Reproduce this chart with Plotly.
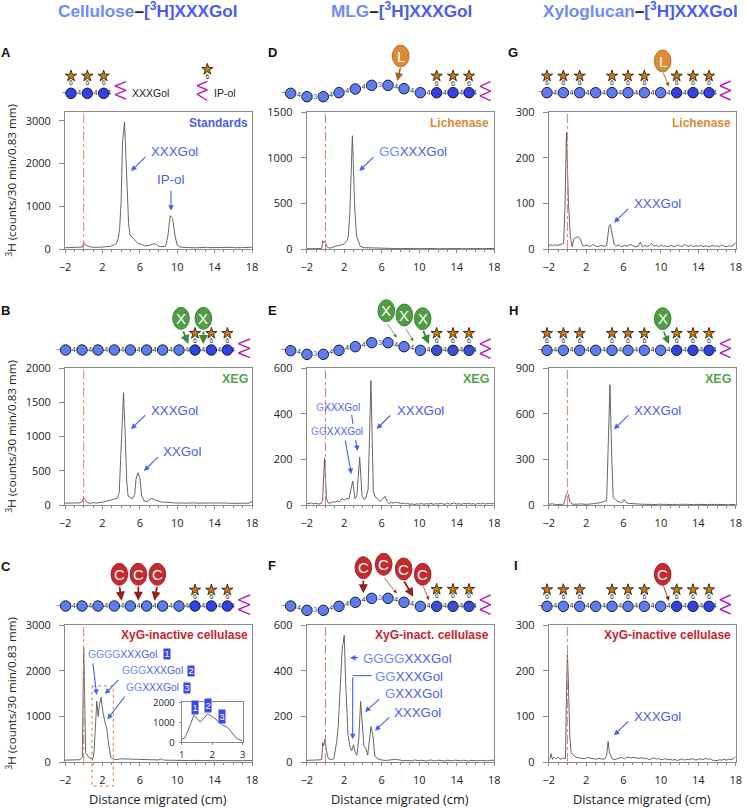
import plotly.graph_objects as go

FONT = "Liberation Sans"
TICK_FONT = "Open Sans"
BLUE = "#4a5cf2"
LIGHT = "#6d8cf6"
GREEN = "#53a447"
RED = "#c9232c"
ORANGE = "#dc8a35"
CURVE = "#565656"

# migration grid shared by the flat part of every lane, right of 8 cm
tail_x = [8, 8.25, 8.5, 8.75, 9, 9.25, 9.5, 9.75, 10, 10.25, 10.5, 10.75, 11, 11.25, 11.5, 11.75, 12, 12.25, 12.5, 12.75,
          13, 13.25, 13.5, 13.75, 14, 14.25, 14.5, 14.75, 15, 15.25, 15.5, 15.75, 16, 16.25, 16.5, 16.75, 17, 17.25,
          17.5, 17.75, 18]

a_x = [-2, -1.6, -1.2, -0.8, -0.4, -0.15, 0, 0.1, 0.4, 0.8, 1.2, 1.6, 2, 2.4, 2.8, 3.2, 3.5, 3.7, 3.85, 4, 4.15, 4.37, 4.5,
       4.65, 4.8, 4.95, 5.1, 5.4, 5.8, 6.2, 6.6, 7, 7.3, 7.55, 7.8]
a_y = [30, 35, 28, 35, 38, 45, 150, 110, 70, 45, 40, 38, 45, 55, 60, 90, 130, 250, 500, 1100, 2500, 2980, 2300, 1500, 600,
       330, 290, 220, 130, 110, 70, 85, 110, 125, 100]
a_tail = [70, 55, 50, 60, 300, 780, 720, 330, 90, 50, 40, 35, 34, 30, 35, 30, 28, 33, 36, 30, 35, 40, 32, 30, 38, 35, 30,
          28, 36, 40, 33, 30, 35, 30, 38, 32, 36, 30, 40, 35, 45]

b_x = [-2, -1.5, -1, -0.5, -0.15, 0, 0.15, 0.4, 0.7, 1, 1.3, 1.7, 2, 2.3, 2.6, 3, 3.3, 3.6, 3.8, 3.95, 4.1, 4.26, 4.45, 4.6,
       4.75, 5, 5.2, 5.45, 5.6, 5.8, 6, 6.2, 6.5, 6.8, 7.05, 7.3, 7.55]
b_y = [28, 30, 27, 30, 45, 110, 80, 35, 25, 35, 28, 30, 40, 50, 60, 70, 85, 100, 180, 700, 1300, 1640, 1000, 350, 130, 110,
       90, 150, 380, 470, 400, 130, 55, 50, 70, 100, 75]
b_tail = [50, 45, 42, 38, 36, 35, 30, 32, 28, 30, 26, 30, 27, 29, 25, 30, 28, 26, 30, 27, 25, 28, 30, 26, 24, 28, 30, 26,
          25, 28, 26, 24, 27, 22, 25, 24, 26, 22, 25, 30, 50]

c_x = [-2, -1.4, -0.8, -0.4, -0.15, -0.05, 0, 0.1, 0.2, 0.6, 0.95, 1.1, 1.25, 1.4, 1.55, 1.65, 1.85, 2.05, 2.3, 2.45, 2.7,
       2.9, 3.2, 3.6, 4, 4.5, 5, 5.5, 6, 6.5, 7, 7.5]
c_y = [40, 42, 38, 50, 100, 1500, 2500, 1500, 200, 90, 60, 200, 700, 1330, 1000, 1200, 1420, 1100, 850, 750, 350, 100, 60,
       55, 70, 65, 72, 55, 50, 48, 45, 42]
c_tail = [45, 70, 45, 40, 38, 40, 36, 38, 34, 36, 33, 36, 34, 32, 35, 33, 30, 34, 32, 30, 33, 31, 30, 32, 30, 28, 32, 30,
          28, 31, 30, 29, 31, 28, 30, 29, 28, 30, 28, 30, 32]

# close-up of lane C between 1 and 3 cm
inset_x = [1, 1.1, 1.2, 1.3, 1.4, 1.5, 1.6, 1.7, 1.85, 2, 2.2, 2.35, 2.5, 2.65, 2.8, 3]
inset_y = [150, 220, 550, 1000, 1350, 1200, 1020, 1150, 1420, 1300, 1050, 850, 750, 450, 200, 50]

d_x = [-2, -1.4, -0.8, -0.4, -0.3, -0.2, -0.1, 0, 0.2, 0.4, 0.7, 1, 1.5, 2, 2.3, 2.45, 2.6, 2.87, 3.1, 3.3, 3.5, 3.7, 4, 4.6,
       5.2, 6, 6.8, 7.4]
d_y = [3, 5, 3, 5, 90, 70, 85, 70, 20, 10, 15, 30, 40, 55, 90, 150, 400, 1240, 500, 150, 90, 30, 15, 12, 8, 7, 6, 5]
d_tail = [5, 6, 4, 5, 6, 4, 5, 6, 4, 5, 3, 5, 4, 6, 4, 5, 3, 4, 5, 4, 6, 4, 3, 5, 4, 5, 3, 4, 5, 3, 4, 5, 3, 4, 5, 4, 3, 5,
          4, 3, 6]

e_x = [-2, -1.75, -1.5, -1.25, -1, -0.75, -0.45, -0.3, -0.1, 0.1, 0.3, 0.6, 0.85, 1, 1.25, 1.5, 1.75, 2, 2.3, 2.5, 2.65, 2.9,
       3.15, 3.35, 3.65, 3.9, 4.1, 4.3, 4.55, 4.85, 5.1, 5.3, 5.5, 5.8, 6.1, 6.35, 6.6, 6.8, 7, 7.25, 7.5]
e_y = [8, 6, 9, 5, 8, 4, 7, 20, 205, 30, 8, 10, 15, 12, 18, 14, 28, 22, 30, 25, 55, 105, 28, 40, 210, 40, 25, 30, 70, 545,
       60, 35, 30, 15, 25, 38, 15, 5, 12, 8, 12]
e_tail = [7, 8, 5, 7, 3, 5, 2, 5, 4, 7, 3, 6, 4, 7, 3, 6, 4, 7, 5, 3, 8, 4, 6, 9, 4, 6, 3, 7, 5, 8, 4, 6, 3, 7, 5, 9, 4, 6,
          8, 5, 7]

f_x = [-2, -1.5, -1, -0.6, -0.4, -0.3, -0.2, -0.05, 0.1, 0.3, 0.6, 0.9, 1, 1.2, 1.35, 1.6, 1.8, 1.9, 2, 2.15, 2.4, 2.6, 2.8, 3,
       3.2, 3.35, 3.55, 3.75, 3.95, 4.1, 4.3, 4.5, 4.7, 4.85, 5.05, 5.25, 5.5, 5.8, 6.1, 6.5, 6.9, 7.2, 7.5]
f_y = [7, 8, 6, 9, 10, 85, 70, 100, 50, 15, 10, 15, 40, 90, 150, 360, 510, 520, 555, 350, 120, 70, 50, 75, 40, 30, 100, 265,
       130, 70, 60, 30, 100, 155, 120, 30, 15, 10, 8, 7, 9, 8, 12]
f_tail = [8, 5, 7, 6, 8, 5, 9, 6, 5, 8, 6, 4, 7, 9, 6, 5, 8, 6, 7, 4, 8, 6, 5, 8, 6, 7, 5, 8, 6, 4, 7, 6, 8, 5, 7, 6, 8, 5,
          7, 6, 8]

g_x = [-2, -1.85, -1.6, -1.3, -1, -0.7, -0.4, -0.25, -0.1, 0.1, 0.3, 0.5, 0.7, 0.9, 1.1, 1.4, 1.6, 1.8, 2.1, 2.4, 2.7, 3, 3.3,
       3.6, 3.9, 4.2, 4.45, 4.6, 4.8, 5, 5.2, 5.5, 5.8, 6.1, 6.4, 6.7, 7, 7.3, 7.55, 7.8]
g_y = [5, 10, 7, 9, 8, 10, 12, 100, 255, 110, 30, 5, 22, 25, 27, 22, 8, 7, 9, 5, 10, 7, 5, 8, 6, 7, 50, 53, 30, 10, 6, 9, 5,
       8, 6, 10, 7, 5, 6, 15]
g_tail = [5, 8, 6, 7, 12, 6, 8, 5, 9, 6, 7, 5, 8, 6, 5, 9, 7, 5, 10, 7, 6, 8, 5, 7, 6, 8, 5, 7, 6, 5, 8, 6, 7, 5, 9, 6, 5,
          7, 6, 8, 15]

h_x = [-2, -1.6, -1.3, -1, -0.7, -0.4, -0.2, -0.1, 0, 0.1, 0.25, 0.5, 1, 1.5, 2, 2.5, 3, 3.5, 4, 4.2, 4.3, 4.55, 4.75, 4.9, 5.2,
       5.5, 5.8, 6.05, 6.3, 6.6, 7, 7.5]
h_y = [5, 8, 3, 6, 4, 5, 50, 70, 75, 70, 20, 6, 5, 7, 4, 6, 10, 15, 25, 30, 250, 790, 300, 50, 30, 22, 15, 35, 15, 10, 10, 7]
h_tail = [5, 4, 6, 3, 5, 4, 3, 5, 4, 6, 3, 4, 5, 3, 4, 2, 5, 3, 4, 5, 3, 4, 2, 4, 3, 5, 3, 4, 3, 4, 2, 3, 4, 3, 2, 4, 3, 2,
          3, 2, 4]

i_x = [-2, -1.85, -1.75, -1.6, -1.4, -1.2, -1, -0.8, -0.5, -0.2, -0.1, 0, 0.1, 0.25, 0.4, 0.6, 1, 1.4, 1.8, 2.2, 2.6, 3, 3.4, 3.8,
       4, 4.2, 4.35, 4.5, 4.8, 5.1, 5.4, 5.8, 6.1, 6.4, 6.8, 7.2, 7.6]
i_y = [5, 8, 18, 6, 10, 7, 11, 6, 8, 8, 150, 235, 180, 60, 20, 15, 10, 9, 7, 10, 8, 6, 8, 6, 7, 15, 45, 20, 7, 5, 8, 10, 7,
       11, 9, 10, 8]
i_tail = [9, 7, 8, 5, 7, 9, 6, 8, 5, 6, 7, 5, 6, 4, 6, 3, 5, 7, 4, 6, 5, 7, 6, 4, 6, 7, 5, 8, 6, 7, 4, 3, 3, 5, 4, 6, 4, 6,
          5, 7, 12]

x_ticks = [-2, 2, 6, 10, 14, 18]

# axis id, x of left edge, x of right edge, y of top, y of 0, top of scale, ticks, lane data
panels = [
    ("", 65, 252, 112, 249, 3210, [0, 1000, 2000, 3000], a_x, a_y, a_tail),
    ("2", 65, 252, 368, 505, 2000, [0, 500, 1000, 1500, 2000], b_x, b_y, b_tail),
    ("3", 65, 252, 625, 762, 3000, [0, 1000, 2000, 3000], c_x, c_y, c_tail),
    ("4", 306.7, 494.3, 112, 249, 1500, [0, 500, 1000, 1500], d_x, d_y, d_tail),
    ("5", 306.7, 494.3, 368, 505, 600, [0, 200, 400, 600], e_x, e_y, e_tail),
    ("6", 306.7, 494.3, 625, 762, 600, [0, 200, 400, 600], f_x, f_y, f_tail),
    ("7", 548.7, 735.7, 112, 249, 300, [0, 100, 200, 300], g_x, g_y, g_tail),
    ("8", 548.7, 735.7, 368, 505, 900, [0, 300, 600, 900], h_x, h_y, h_tail),
    ("9", 548.7, 735.7, 625, 762, 300, [0, 100, 200, 300], i_x, i_y, i_tail),
]

W, H = 748, 808
fig = go.Figure()
layout = {}
shapes = []
annotations = []


def axis_pair(name, left, right, top, bottom, yrange, yticks, xrange, xticks, size=11, xlen=3, ylen=5, xgap=5, ygap=6, minor=None):
    layout["xaxis" + name] = dict(domain=[left / W, right / W], range=xrange, tickvals=xticks, anchor="y" + name,
                                  showgrid=False, zeroline=False, showline=True, linecolor="#8a8a8a", mirror=True,
                                  ticks="outside", ticklen=xlen, tickcolor="#8a8a8a", minor=minor, ticklabelstandoff=xgap,
                                  tickfont=dict(family=TICK_FONT, size=size, color="#222"))
    layout["yaxis" + name] = dict(domain=[1 - bottom / H, 1 - top / H], range=yrange, tickvals=yticks, anchor="x" + name,
                                  showgrid=False, zeroline=False, showline=True, linecolor="#8a8a8a", mirror=True,
                                  ticks="outside", ticklen=ylen, tickcolor="#8a8a8a", ticklabelstandoff=ygap,
                                  tickfont=dict(family=TICK_FONT, size=size, color="#222"))


for name, left, right, top, bottom, ymax, yticks, xs, ys, tail in panels:
    axis_pair(name, left, right, top, bottom, [0, ymax], yticks, [-2, 18], x_ticks,
              minor=dict(ticks="outside", tick0=-2, dtick=1, ticklen=2, tickcolor="#8a8a8a", showgrid=False))
    fig.add_trace(go.Scatter(x=xs + tail_x, y=ys + tail, mode="lines", xaxis="x" + name, yaxis="y" + name,
                             line=dict(color=CURVE, width=0.9), showlegend=False))
    # origin line
    shapes.append(dict(type="line", xref="x" + name, yref="y" + name + " domain", x0=0, x1=0, y0=0, y1=1,
                       line=dict(color="#e87a68", width=1, dash="dashdot")))

# inset of C
axis_pair("10", 181.7, 242.7, 702.3, 742.3, [0, 2000], [0, 1000, 2000], [1, 3], [1, 2, 3], size=9.5, xlen=2, ylen=2,
          xgap=1, ygap=2)
fig.add_trace(go.Scatter(x=inset_x, y=inset_y, mode="lines", xaxis="x10", yaxis="y10",
                         line=dict(color=CURVE, width=0.9), showlegend=False))

# pixel canvas for the sugar cartoons and labels, same size as the page
layout["xaxis11"] = dict(domain=[0, 1], range=[0, W], visible=False, anchor="y11")
layout["yaxis11"] = dict(domain=[0, 1], range=[H, 0], visible=False, anchor="x11")
PX = dict(xref="x11", yref="y11")


def zoomed(ox, oy, x, y):
    return ox + x / 3, oy + y / 3


def text(x, y, s, size=13.3, color=BLUE, bold=False, anchor="left", family=FONT, angle=0):
    # annotations keep a little padding around the text
    shift = {"left": -2, "right": 1.5, "center": 0}[anchor]
    annotations.append(dict(x=x, y=y, text="<b>%s</b>" % s if bold else s, showarrow=False, xanchor=anchor, yanchor="middle",
                            xshift=shift, textangle=angle, font=dict(family=family, size=size, color=color), **PX))


def arrow(x0, y0, x1, y1, color=BLUE, width=1.1, head=2):
    annotations.append(dict(x=x1, y=y1, ax=x0, ay=y0, axref="x11", ayref="y11", text="", showarrow=True, arrowhead=head,
                            arrowsize=1, arrowwidth=width, arrowcolor=color, standoff=0, startstandoff=0, **PX))


def segment(x0, y0, x1, y1, color=BLUE, width=1.1):
    shapes.append(dict(type="line", x0=x0, x1=x1, y0=y0, y1=y1, line=dict(color=color, width=width), **PX))


def badge(x, y, s, wide=6, tall=10):
    annotations.append(dict(x=x, y=y, text=s, showarrow=False, bgcolor="#3a49e6", borderpad=0, width=wide, height=tall,
                            font=dict(family=FONT, size=9, color="white"), **PX))


def enzyme(ox, oy, zx, zy, letter, fill, edge):
    x, y = zoomed(ox, oy, zx, zy)
    shapes.append(dict(type="circle", x0=x - 8.3, x1=x + 8.3, y0=y - 11, y1=y + 11, fillcolor=fill,
                       line=dict(color=edge, width=1), **PX))
    annotations.append(dict(x=x, y=y, text=letter, showarrow=False, font=dict(family=FONT, size=15, color="white"), **PX))


def chain(ox, oy, cx, cy, ndark, stars, star_y, six_y, zig, dark="#2f42ea", three=()):
    xs = [ox + v / 3 for v in cx]
    ys = [oy + v / 3 for v in cy]
    colors = ["#5c7df2"] * (len(xs) - ndark) + [dark] * ndark
    # zigzag reducing end
    zx0, zx1, zy0, zy1 = [ox + zig[0] / 3, ox + zig[1] / 3, oy + zig[2] / 3, oy + zig[3] / 3]
    step = (zy1 - zy0) / 4
    fig.add_trace(go.Scatter(x=[zx1, zx0, zx1, zx0, zx1], y=[zy0 + step * k for k in range(5)], mode="lines",
                             xaxis="x11", yaxis="y11", line=dict(color="#b222b8", width=1.4), showlegend=False))
    # stars sit on stems above the sugars
    sx = [xs[k] for k in stars]
    fig.add_trace(go.Scatter(x=sx, y=[oy + star_y / 3] * len(sx), mode="markers", xaxis="x11", yaxis="y11",
                             marker=dict(symbol="star", size=8.5, color="#cc7a14", line=dict(color="#111", width=0.8)),
                             showlegend=False))
    fig.add_trace(go.Scatter(x=sx, y=[oy + six_y / 3] * len(sx), mode="text", text=["6"] * len(sx), xaxis="x11", yaxis="y11",
                             textfont=dict(family=FONT, size=7, color="#333"), showlegend=False))
    # links
    lx, ly, lt, lc = [], [], [], []
    for k in range(len(xs)):
        nx = xs[k + 1] if k + 1 < len(xs) else xs[k] + 11
        ny = ys[k + 1] if k + 1 < len(xs) else ys[k]
        lx.append((xs[k] + nx) / 2)
        ly.append((ys[k] + ny) / 2)
        lt.append("3" if k in three else "4")
        lc.append(BLUE if k in three else "#333")
    fig.add_trace(go.Scatter(x=lx, y=ly, mode="text", text=lt, xaxis="x11", yaxis="y11",
                             textfont=dict(family=FONT, size=7.5, color=lc), showlegend=False))
    fig.add_trace(go.Scatter(x=xs, y=ys, mode="markers", xaxis="x11", yaxis="y11",
                             marker=dict(size=10.5, color=colors, line=dict(color="#111", width=0.9)), showlegend=False))
    text(xs[0] - 7, ys[0] - 1, "~", size=8, color="#333", anchor="center")


cell_x = [197, 246, 294, 343, 391, 440, 488, 537, 585, 634, 682]
mlg_x = [122, 171, 220, 267, 316, 365, 414, 462, 511, 560, 609, 657]
xyg_x = [147, 196, 245, 293, 342, 390, 439, 488, 536, 585, 633]
xyg_stars = [0, 1, 2, 4, 5, 6, 8, 9, 10]

# A standards
chain(0, 0, [213, 262, 311], [280] * 3, 3, [0, 1, 2], 228, 250, (345, 378, 245, 297))
text(150, 92.5, "XXXGol", size=10.5, color="#222", anchor="center")
fig.add_trace(go.Scatter(x=[622 / 3], y=[208 / 3], mode="markers", xaxis="x11", yaxis="y11", showlegend=False,
                         marker=dict(symbol="star", size=8.5, color="#cc7a14", line=dict(color="#111", width=0.8))))
fig.add_trace(go.Scatter(x=[622 / 3], y=[232 / 3], mode="text", text=["6"], xaxis="x11", yaxis="y11", showlegend=False,
                         textfont=dict(family=FONT, size=7, color="#333")))
fig.add_trace(go.Scatter(x=[207.3, 197, 207.3, 197, 207.3], y=[81.5, 85.7, 90, 94.2, 100.5], mode="lines", xaxis="x11",
                         yaxis="y11", line=dict(color="#b222b8", width=1.4), showlegend=False))
text(225, 92.5, "IP-ol", size=10.5, color="#222", anchor="center")

# B
chain(0, 270, cell_x, [240] * 11, 3, [8, 9, 10], 190, 213, (715, 750, 207, 263))
for zx, tx, ty in [(543, 565, 222), (610, 610, 222)]:
    enzyme(0, 270, zx, 145, "X", "#4f9e43", "#3f8636")
    x0, y0 = zoomed(0, 270, zx + 5 if zx == 543 else zx, 180)
    x1, y1 = zoomed(0, 270, tx, ty)
    arrow(x0, y0, x1, y1, color="#3f8636", width=1.8)

# C
chain(0, 530, cell_x, [228] * 11, 3, [8, 9, 10], 180, 203, (715, 750, 195, 253))
for zx, tx in [(358, 365), (415, 415), (472, 463)]:
    enzyme(0, 530, zx, 133, "C", "#c62a2d", "#a82225")
    x0, y0 = zoomed(0, 530, zx, 166)
    x1, y1 = zoomed(0, 530, tx, 212)
    arrow(x0, y0, x1, y1, color="#93201f", width=1.8)

# D
enzyme(250, 0, 452, 168, "L", "#dc8a35", "#b86f25")
x0, y0 = zoomed(250, 0, 452, 200)
x1, y1 = zoomed(250, 0, 442, 243)
arrow(x0, y0, x1, y1, color="#a8621f", width=1.6)
chain(250, 0, mlg_x, [280, 290, 290, 278, 267, 256, 256, 266, 278, 278, 278, 278], 3, [9, 10, 11], 228, 252,
      (690, 722, 245, 302), three=(1, 5))

# E
chain(250, 270, mlg_x, [242, 253, 253, 241, 230, 218, 218, 230, 241, 241, 241, 241], 3, [9, 10, 11], 190, 213,
      (690, 722, 207, 265), dark="#3a4fd8", three=(1, 5))
for zx, zy in [(409, 122), (463, 135), (518, 146)]:
    enzyme(250, 270, zx, zy, "X", "#4f9e43", "#3f8636")
for sx, sy, tx, ty, wd in [(410, 158, 440, 203, 0.7), (465, 172, 490, 214, 0.7), (518, 178, 537, 222, 1.8)]:
    x0, y0 = zoomed(250, 270, sx, sy)
    x1, y1 = zoomed(250, 270, tx, ty)
    arrow(x0, y0, x1, y1, color="#3f8636", width=wd)

# F
chain(250, 530, mlg_x, [228, 241, 241, 229, 217, 205, 205, 217, 229, 229, 229, 229], 3, [9, 10, 11], 178, 200,
      (690, 722, 195, 253), dark="#3a4fd8", three=(1, 5))
for zx, zy in [(340, 113), (401, 103), (461, 117), (518, 133)]:
    enzyme(250, 530, zx, zy, "C", "#c62a2d", "#a82225")
for sx, sy, tx, ty, wd in [(340, 148, 340, 190, 1.8), (400, 140, 440, 190, 0.7), (460, 150, 490, 200, 1.8),
                           (518, 165, 537, 210, 0.7)]:
    x0, y0 = zoomed(250, 530, sx, sy)
    x1, y1 = zoomed(250, 530, tx, ty)
    arrow(x0, y0, x1, y1, color="#93201f", width=wd)

# G H I
chain(498, 0, xyg_x, [278] * 11, 3, xyg_stars, 228, 250, (666, 698, 243, 300))
enzyme(498, 0, 494, 183, "L", "#dc8a35", "#b86f25")
x0, y0 = zoomed(498, 0, 494, 215)
x1, y1 = zoomed(498, 0, 513, 260)
arrow(x0, y0, x1, y1, color="#a8621f", width=0.9)

chain(498, 270, xyg_x, [241] * 11, 3, xyg_stars, 190, 213, (666, 698, 207, 263))
enzyme(498, 270, 494, 146, "X", "#4f9e43", "#3f8636")
x0, y0 = zoomed(498, 270, 495, 180)
x1, y1 = zoomed(498, 270, 513, 222)
arrow(x0, y0, x1, y1, color="#3f8636", width=1.6)

chain(498, 530, xyg_x, [229] * 11, 3, xyg_stars, 179, 202, (666, 698, 195, 252))
enzyme(498, 530, 494, 133, "C", "#c62a2d", "#a82225")
x0, y0 = zoomed(498, 530, 495, 165)
x1, y1 = zoomed(498, 530, 513, 212)
arrow(x0, y0, x1, y1, color="#93201f", width=0.9)

# column heads
for cx, head in [(147.5, "Cellulose"), (401, "MLG"), (640, "Xyloglucan")]:
    annotations.append(dict(x=cx, y=10, showarrow=False, font=dict(family=FONT, size=17.2, color=BLUE),
                            text='<b><span style="color:%s">%s</span><span style="color:#222">–</span>[<sup>3</sup>H]XXXGol</b>'
                                 % (LIGHT, head), **PX))

# panel letters
for letter, lx, ly in [("A", 5.5, 52.5), ("B", 5.5, 310), ("C", 5.5, 566), ("D", 272.5, 52.5), ("E", 272.5, 310),
                       ("F", 272, 565), ("G", 513, 52.5), ("H", 513, 310), ("I", 516, 565)]:
    text(lx, ly, letter, size=13, color="#111", bold=True, anchor="center")

# treatment names
text(248.5, 122.5, "Standards", size=12, color=BLUE, bold=True, anchor="right")
text(248.5, 378.5, "XEG", size=12.5, color=GREEN, bold=True, anchor="right")
text(248.5, 635, "XyG-inactive cellulase", size=12, color=RED, bold=True, anchor="right")
text(489.5, 122.5, "Lichenase", size=12, color=ORANGE, bold=True, anchor="right")
text(489.5, 378.5, "XEG", size=12.5, color=GREEN, bold=True, anchor="right")
text(489.5, 635, "XyG-inact. cellulase", size=12, color=RED, bold=True, anchor="right")
text(731.5, 122.5, "Lichenase", size=12, color=ORANGE, bold=True, anchor="right")
text(731.5, 378.5, "XEG", size=12.5, color=GREEN, bold=True, anchor="right")
text(731.5, 635, "XyG-inactive cellulase", size=12, color=RED, bold=True, anchor="right")

# axis captions
for cy in [181, 437, 694]:
    text(10.5, cy, "<sup>3</sup>H (counts/30 min/0.83 mm)", size=11.6, color="#222", anchor="center", family=TICK_FONT, angle=-90)
for cx in [158, 400, 642]:
    text(cx, 799, "Distance migrated (cm)", size=12.8, color="#222", anchor="center", family=TICK_FONT)


def product(gs, rest="XXXGol"):
    return '<span style="color:%s">%s</span>%s' % (LIGHT, gs, rest)


# peak labels, in 3x crop units
def lab(ox, oy, zx, zy, s, size=13.3):
    x, y = zoomed(ox, oy, zx, zy)
    text(x, y, s, size=size)


def arr(ox, oy, sx, sy, tx, ty):
    x0, y0 = zoomed(ox, oy, sx, sy)
    x1, y1 = zoomed(ox, oy, tx, ty)
    arrow(x0, y0, x1, y1)


lab(0, 0, 453, 455, "XXXGol")
arr(0, 0, 440, 467, 393, 513)
lab(0, 0, 472, 537, "IP-ol")
arr(0, 0, 513, 568, 513, 632)
lab(0, 270, 453, 420, "XXXGol")
arr(0, 270, 440, 432, 393, 477)
lab(0, 270, 490, 545, "XXGol")
arr(0, 270, 478, 557, 432, 603)

lab(0, 530, 263, 372, product("GGGG"), 10.4)
lab(0, 530, 365, 422, product("GGG"), 10.4)
lab(0, 530, 378, 473, product("GG"), 10.4)
for zx, zy, digit in [(500, 372, "1"), (574, 422, "2"), (562, 473, "3")]:
    x, y = zoomed(0, 530, zx, zy)
    badge(x, y, digit)
arr(0, 530, 278, 395, 290, 495)
arr(0, 530, 360, 445, 315, 492)
arr(0, 530, 378, 495, 322, 568)
shapes.append(dict(type="rect", x0=92, x1=113.3, y0=686, y1=786, line=dict(color="#c8804a", width=1, dash="dot"), **PX))
for zx, zy, digit in [(585, 532, "1"), (625, 525, "2"), (665, 558, "3")]:
    x, y = zoomed(0, 530, zx, zy)
    badge(x, y, digit, wide=6, tall=13)

lab(250, 0, 387, 455, product("GG"))
arr(250, 0, 375, 467, 328, 513)

lab(250, 270, 198, 413, product("G"), 10.2)
lab(250, 270, 183, 485, product("GG"), 10.2)
lab(250, 270, 441, 420, "XXXGol")
arr(250, 270, 425, 432, 380, 477)
x0, y0 = zoomed(250, 270, 305, 435)
x1, y1 = zoomed(250, 270, 309, 462)
segment(x0, y0, x1, y1)
arr(250, 270, 316, 505, 323, 543)
arr(250, 270, 285, 507, 304, 612)

lab(250, 530, 338, 385, product("GGGG"))
lab(250, 530, 375, 438, product("GG"))
lab(250, 530, 405, 491, product("G"))
lab(250, 530, 433, 548, "XXXGol")
arr(250, 530, 328, 383, 300, 383)
x0, y0 = zoomed(250, 530, 365, 437)
x1, y1 = zoomed(250, 530, 308, 437)
segment(x0, y0, x1, y1)
arr(250, 530, 308, 437, 308, 628)
arr(250, 530, 392, 503, 345, 546)
arr(250, 530, 422, 558, 375, 602)

lab(498, 0, 407, 610, "XXXGol")
arr(498, 0, 395, 622, 348, 668)
lab(498, 270, 407, 420, "XXXGol")
arr(498, 270, 395, 432, 348, 478)
lab(498, 530, 407, 558, "XXXGol")
arr(498, 530, 395, 570, 348, 616)

fig.update_layout(width=W, height=H, autosize=False, margin=dict(l=0, r=0, t=0, b=0, autoexpand=False),
                  paper_bgcolor="white", plot_bgcolor="rgba(0,0,0,0)", showlegend=False, shapes=shapes,
                  annotations=annotations, **layout)

fig.write_html("out.html", config={"displayModeBar": False},
               post_script="document.body.style.margin='0';document.documentElement.style.overflow='hidden';")
